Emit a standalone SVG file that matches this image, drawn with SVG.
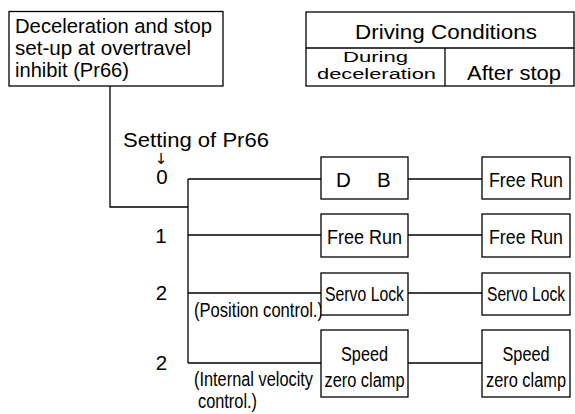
<svg xmlns="http://www.w3.org/2000/svg" width="575" height="414" viewBox="0 0 575 414">
<style>
.box{fill:#fff;stroke:#000;stroke-width:1.3}
.ln{fill:none;stroke:#000;stroke-width:1.3}
text{font-family:"Liberation Sans",Arial,sans-serif;fill:#000}
.t20{font-size:20.5px}
.t21{font-size:21px}
.c{font-size:20px}
.m{text-anchor:middle}
</style>
<rect width="575" height="414" fill="#fff"/>
<g id="connectors">
<polyline class="ln" points="110,86 110,207 188,207"/>
<line class="ln" x1="188" y1="179" x2="188" y2="363"/>
<line class="ln" x1="188" y1="179" x2="321" y2="179"/>
<line class="ln" x1="408" y1="179" x2="482" y2="179"/>
<line class="ln" x1="188" y1="235" x2="321" y2="235"/>
<line class="ln" x1="408" y1="235" x2="482" y2="235"/>
<line class="ln" x1="188" y1="293" x2="321" y2="293"/>
<line class="ln" x1="408" y1="293" x2="482" y2="293"/>
<line class="ln" x1="188" y1="363" x2="321" y2="363"/>
<line class="ln" x1="408" y1="363" x2="482" y2="363"/>
</g>
<g id="pr66-box">
<rect class="box" x="9" y="11.5" width="214" height="74.5"/>
<text class="t20" x="15" y="33" textLength="197" lengthAdjust="spacingAndGlyphs">Deceleration and stop</text>
<text class="t20" x="15" y="55" textLength="176" lengthAdjust="spacingAndGlyphs">set-up at overtravel</text>
<text class="t20" x="15" y="77" textLength="114" lengthAdjust="spacingAndGlyphs">inhibit (Pr66)</text>
</g>
<g id="driving-conditions">
<rect class="box" x="306" y="12" width="268" height="74"/>
<line class="ln" x1="306" y1="48" x2="574" y2="48"/>
<line class="ln" x1="445" y1="48" x2="445" y2="86"/>
<text class="t21 m" x="446" y="39" textLength="182" lengthAdjust="spacingAndGlyphs">Driving Conditions</text>
<text class="m" x="375.5" y="62" style="font-size:14px" textLength="65" lengthAdjust="spacingAndGlyphs">During</text>
<text class="m" x="376.5" y="79" style="font-size:14px" textLength="119" lengthAdjust="spacingAndGlyphs">deceleration</text>
<text class="t21 m" x="514" y="80" textLength="94" lengthAdjust="spacingAndGlyphs">After stop</text>
</g>
<g id="setting-label">
<text class="t21" x="123" y="147" textLength="146" lengthAdjust="spacingAndGlyphs">Setting of Pr66</text>
<text class="m" x="161" y="164" style="font-size:15px;font-family:'DejaVu Sans',sans-serif">↓</text>
</g>
<g id="row-labels">
<text class="t20 m" x="162" y="184">0</text>
<text class="t20 m" x="161" y="243">1</text>
<text class="t20 m" x="161.5" y="300">2</text>
<text class="t20 m" x="161.5" y="370">2</text>
<text class="c" x="194" y="317" textLength="129" lengthAdjust="spacingAndGlyphs">(Position control.)</text>
<text class="c" x="194" y="386" textLength="119" lengthAdjust="spacingAndGlyphs">(Internal velocity</text>
<text class="c" x="198" y="408" textLength="59" lengthAdjust="spacingAndGlyphs">control.)</text>
</g>
<g id="db">
<rect class="box" x="321" y="157" width="87" height="42"/>
<text class="t20" x="336" y="187">D <tspan x="377">B</tspan></text>
</g>
<g id="free-run-after-0">
<rect class="box" x="482" y="157" width="88" height="42"/>
<text class="c m" x="526" y="187" textLength="74" lengthAdjust="spacingAndGlyphs">Free Run</text>
</g>
<g id="free-run-dec-1">
<rect class="box" x="321" y="214" width="87" height="43"/>
<text class="c m" x="364.5" y="244" textLength="75" lengthAdjust="spacingAndGlyphs">Free Run</text>
</g>
<g id="free-run-after-1">
<rect class="box" x="482" y="214" width="88" height="43"/>
<text class="c m" x="526" y="244" textLength="74" lengthAdjust="spacingAndGlyphs">Free Run</text>
</g>
<g id="servo-lock-dec">
<rect class="box" x="321" y="273" width="87" height="42"/>
<text class="c m" x="364.5" y="301" textLength="79" lengthAdjust="spacingAndGlyphs">Servo Lock</text>
</g>
<g id="servo-lock-after">
<rect class="box" x="482" y="273" width="88" height="42"/>
<text class="c m" x="526" y="301" textLength="78" lengthAdjust="spacingAndGlyphs">Servo Lock</text>
</g>
<g id="speed-zero-dec">
<rect class="box" x="321" y="330" width="87" height="67"/>
<text class="c m" x="364.5" y="361" textLength="47" lengthAdjust="spacingAndGlyphs">Speed</text>
<text class="c m" x="364.5" y="387" textLength="80" lengthAdjust="spacingAndGlyphs">zero clamp</text>
</g>
<g id="speed-zero-after">
<rect class="box" x="482" y="330" width="88" height="67"/>
<text class="c m" x="526" y="361" textLength="47" lengthAdjust="spacingAndGlyphs">Speed</text>
<text class="c m" x="526" y="387" textLength="80" lengthAdjust="spacingAndGlyphs">zero clamp</text>
</g>
</svg>
